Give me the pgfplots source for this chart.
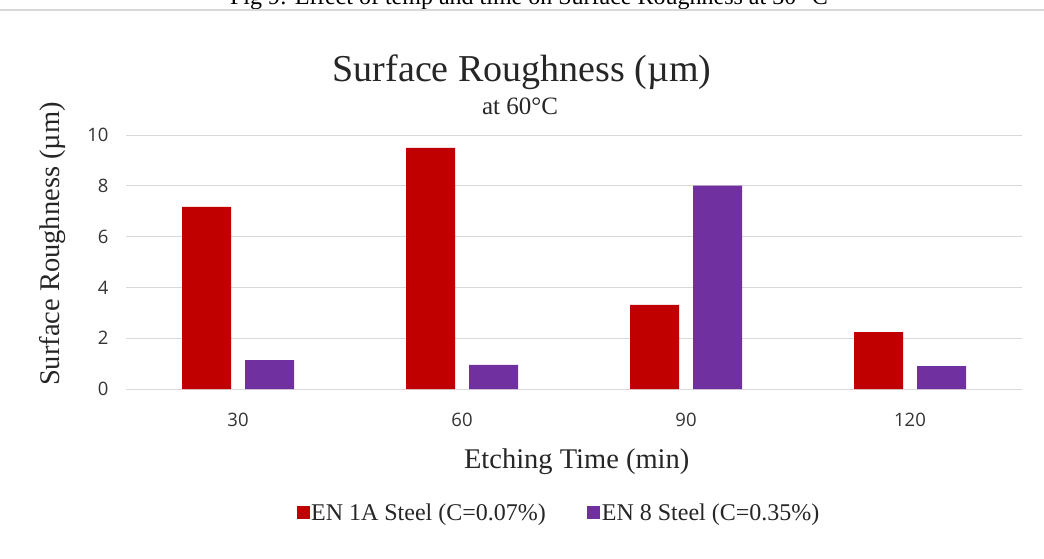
\documentclass[border=0pt]{standalone}
\usepackage{fontspec}
\setmainfont{Liberation Serif}
\newfontfamily\ticksf{Open Sans}
\newfontfamily\capf{Liberation Serif}
\usepackage{pgfplots}
\pgfplotsset{compat=1.18}
\definecolor{enred}{HTML}{C00000}
\definecolor{enpurple}{HTML}{7030A0}
\definecolor{gridc}{HTML}{D9D9D9}
\begin{document}
\begin{tikzpicture}[x=1pt,y=1pt]
\useasboundingbox (0,0) rectangle (1044,558);
% caption partially cut at top
\node[font=\capf\fontsize{24}{26}\selectfont, anchor=base] at (529,553) {Fig 9: Effect of temp and time on Surface Roughness at 30 °C};
\draw[gridc, line width=1.2pt] (0,548) -- (1044,548);
% titles
\node[font=\fontsize{38}{40}\selectfont, anchor=base, text=black!85] at (522,476) {Surface Roughness (µm)};
\node[font=\fontsize{25}{27}\selectfont, anchor=base, text=black!85] at (520,443) {at 60°C};
\begin{axis}[
  at={(126pt,169pt)}, anchor=south west,
  scale only axis, width=896pt, height=254pt,
  xmin=-0.5, xmax=3.5, ymin=0, ymax=10,
  ybar=14pt, bar width=49pt,
  xtick={0,1,2,3}, xticklabels={30,60,90,120},
  ytick={0,2,...,10},
  axis line style={draw=none},
  major tick length=0pt,
  ymajorgrids, grid style={draw=gridc, line width=0.9pt},
  /pgf/number format/assume math mode=true,
  tick label style={font=\ticksf\fontsize{18.5}{20}\selectfont, text=black!80},
  yticklabel style={xshift=-14pt},
  xticklabel style={yshift=-21pt},
  xlabel={Etching Time (min)},
  ylabel={Surface Roughness (µm)},
  label style={font=\fontsize{28.5}{30}\selectfont, text=black!85},
  xlabel style={at={(axis description cs:0.503,-0.288)}, anchor=center},
  ylabel style={at={(axis description cs:-0.0815,0.571)}, anchor=center},
  legend columns=2,
  legend style={at={(axis description cs:0.483,-0.488)}, anchor=center, draw=none,
    font=\fontsize{24}{26}\selectfont, text=black!85, inner sep=0pt,
    nodes={inner sep=1.5pt},
    /tikz/every even column/.append style={column sep=40pt}},
  legend image code/.code={\fill[#1] (0pt,-6.5pt) rectangle (13pt,6.5pt);},
]
\addplot[fill=enred, draw=none] coordinates {(0,7.17) (1,9.49) (2,3.31) (3,2.24)};
\addplot[fill=enpurple, draw=none] coordinates {(0,1.14) (1,0.95) (2,8.01) (3,0.90)};
\legend{EN 1A Steel (C=0.07\%), EN 8 Steel (C=0.35\%)}
\end{axis}
\end{tikzpicture}
\end{document}
